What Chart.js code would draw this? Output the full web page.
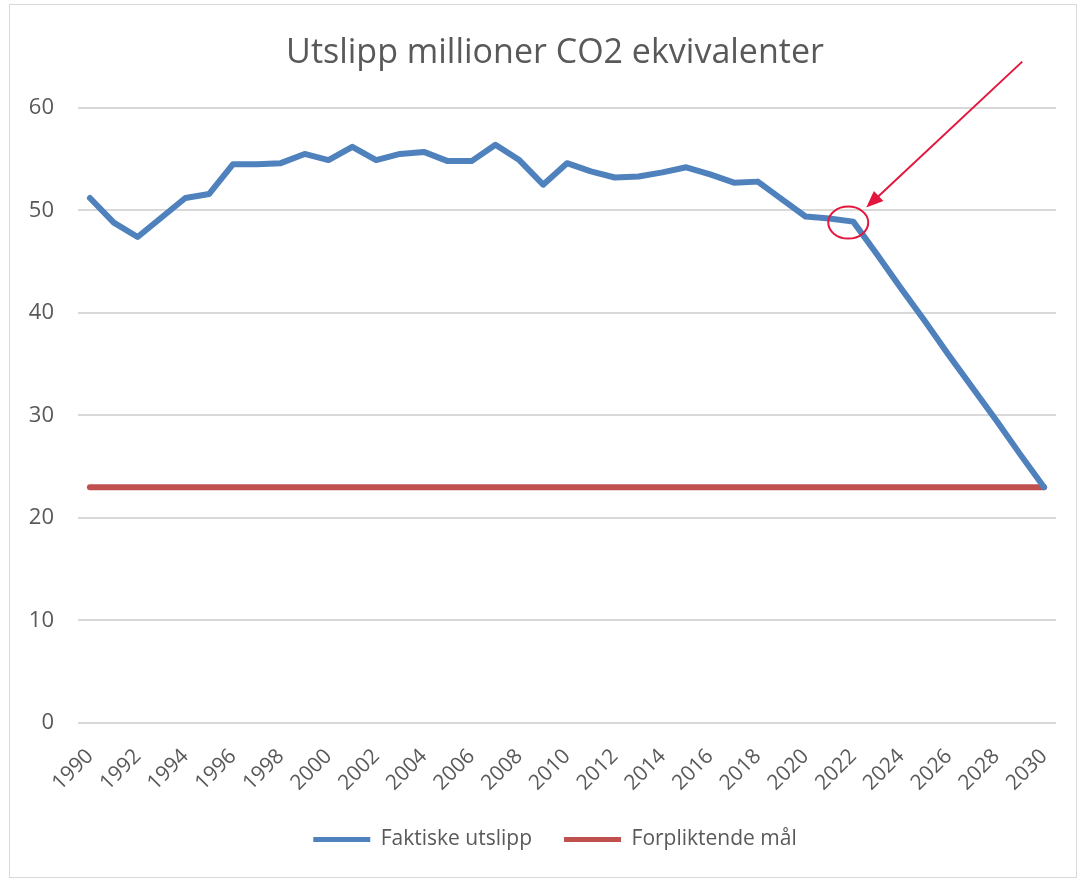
<!DOCTYPE html>
<html>
<head>
<meta charset="utf-8">
<script src="https://cdn.jsdelivr.net/npm/chart.js@4"></script>
<style>
  body { margin: 0; background: #fff; overflow: hidden; }
  #box { position: absolute; left: 9px; top: 4px; width: 1066px; height: 872px; border: 1px solid #d9d9d9; }
  #chart { position: absolute; left: 10px; top: 5px; }
</style>
</head>
<body>
<div id="box"></div>
<canvas id="chart" width="1090" height="872"></canvas>
<script>
const years = [1990,1991,1992,1993,1994,1995,1996,1997,1998,1999,2000,2001,2002,2003,2004,2005,2006,2007,2008,2009,
  2010,2011,2012,2013,2014,2015,2016,2017,2018,2019,2020,2021,2022,2023,2024,2025,2026,2027,2028,2029,2030]

const faktiske = [51.2,48.8,47.4,49.3,51.2,51.6,54.5,54.5,54.6,55.5,54.9,56.2,54.9,55.5,55.7,54.8,54.8,56.4,54.9,52.5,
  54.6,53.8,53.2,53.3,53.7,54.2,53.5,52.7,52.8,51.1,49.4,49.2,48.9,45.7,42.4,39.2,35.9,32.7,29.5,26.2,23.0]

const maal = [23,23,23,23,23,23,23,23,23,23,23,23,23,23,23,23,23,23,23,23,
  23,23,23,23,23,23,23,23,23,23,23,23,23,23,23,23,23,23,23,23,23]

const yTicks = [0,10,20,30,40,50,60]
const markYear = 2022

const grey = "#595959"
const font = "'Open Sans', sans-serif"

// red circle + arrow pointing at the 2022 value
const markPlugin = {
  id: "mark",
  afterDatasetsDraw(chart){
    const meta = chart.getDatasetMeta(0)
    const pt = meta.data[years.indexOf(markYear)]
    const ctx = chart.ctx
    const red = "#e3173e"
    ctx.save()
    ctx.strokeStyle = red
    ctx.fillStyle = red
    ctx.lineWidth = 2
    ctx.beginPath()
    ctx.ellipse(pt.x - 5, pt.y + 1, 20, 16, 0, 0, Math.PI*2)
    ctx.stroke()
    const tx = pt.x + 13, ty = pt.y - 14
    const sx = pt.x + 169, sy = pt.y - 160
    const a = Math.atan2(ty - sy, tx - sx)
    ctx.beginPath()
    ctx.moveTo(sx, sy)
    ctx.lineTo(tx - 12*Math.cos(a), ty - 12*Math.sin(a))
    ctx.stroke()
    ctx.beginPath()
    ctx.moveTo(tx, ty)
    ctx.lineTo(tx - 17*Math.cos(a) + 7*Math.sin(a), ty - 17*Math.sin(a) - 7*Math.cos(a))
    ctx.lineTo(tx - 17*Math.cos(a) - 7*Math.sin(a), ty - 17*Math.sin(a) + 7*Math.cos(a))
    ctx.closePath()
    ctx.fill()
    ctx.restore()
  }
}

new Chart(document.getElementById("chart"),{
  type:'line',
  data:{
    labels: years,
    datasets:[{
      label:"Faktiske utslipp",
      data: faktiske,
      borderColor:"#4f81bd",
      backgroundColor:"#4f81bd",
      borderWidth:6,
      pointRadius:0,
      borderJoinStyle:"round",
      borderCapStyle:"round",
      tension:0
    },{
      label:"Forpliktende mål",
      data: maal,
      borderColor:"#c0504d",
      backgroundColor:"#c0504d",
      borderWidth:6,
      pointRadius:0,
      borderCapStyle:"round",
      tension:0
    }]
  },
  options:{
    responsive:false,
    animation:false,
    layout:{ padding:{ left:0, right:0, top:12, bottom:17 } },
    plugins:{
      title:{
        display:true,
        text:"Utslipp millioner CO2 ekvivalenter",
        color:grey,
        font:{ family:font, size:34, weight:"normal" },
        padding:{ top:16, bottom:34 }
      },
      legend:{
        position:"bottom",
        labels:{
          color:grey,
          font:{ family:font, size:21 },
          boxWidth:57,
          boxHeight:5,
          padding:32,
          generateLabels(chart){
            const items = Chart.defaults.plugins.legend.labels.generateLabels(chart)
            items.forEach(i => { i.lineWidth = 0; i.fillStyle = i.strokeStyle })
            return items
          }
        }
      },
      tooltip:{ enabled:false }
    },
    scales:{
      x:{
        offset:true,
        afterFit(scale){ scale.height = 74 },
        grid:{ display:false, drawTicks:false },
        border:{ display:false },
        ticks:{
          color:grey,
          font:{ family:font, size:21 },
          autoSkip:false,
          minRotation:45,
          maxRotation:45,
          padding:21,
          callback(v, i){ return i % 2 === 0 ? years[i] : "" }
        }
      },
      y:{
        min:0,
        max:60,
        afterBuildTicks(scale){ scale.ticks = yTicks.map(v => ({ value:v })) },
        afterFit(scale){ scale.width = 68 },
        grid:{ color:"#d9d9d9", lineWidth:2, drawTicks:false },
        border:{ display:false },
        ticks:{ color:grey, font:{ family:font, size:22 }, padding:24 }
      },
      // empty right-hand axis, only keeps space so title/legend centre like the original
      yr:{
        position:"right",
        min:0,
        max:60,
        afterFit(scale){ scale.width = 44 },
        grid:{ display:false, drawTicks:false },
        border:{ display:false },
        ticks:{ display:false }
      }
    }
  },
  plugins:[markPlugin]
})
</script>
</body>
</html>
